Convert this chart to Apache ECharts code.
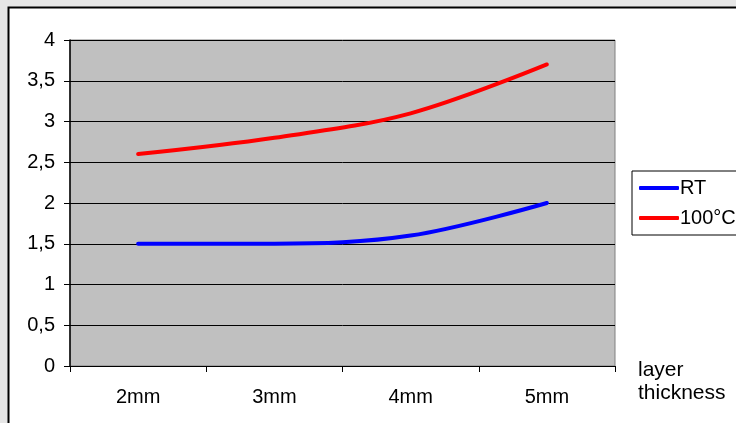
<!DOCTYPE html>
<html>
<head>
<meta charset="utf-8">
<script src="https://cdn.jsdelivr.net/npm/echarts@6/dist/echarts.min.js"></script>
<style>
html,body{margin:0;padding:0;background:#e6e6e6;}
#c{width:736px;height:423px;}
</style>
</head>
<body>
<div id="c"></div>
<script>
const categories = ['2mm', '3mm', '4mm', '5mm'];
const rtValues = [1.5, 1.5, 1.6, 2.0];
const hotValues = [2.6, 2.8, 3.1, 3.7];
const seriesNames = ['RT', '100°C'];
const xAxisName = 'layer\nthickness';

const FONT = '"Liberation Sans", Arial, sans-serif';
const chart = echarts.init(document.getElementById('c'), null, {renderer: 'canvas'});
chart.setOption({
  backgroundColor: '#e6e6e6',
  animation: false,
  textStyle: {fontFamily: FONT, color: '#000'},
  graphic: [{
    type: 'rect', z: -10, silent: true,
    shape: {x: 8.5, y: 7.5, width: 800, height: 500},
    style: {fill: '#ffffff', stroke: '#000000', lineWidth: 2}
  }, {
    type: 'text', silent: true, left: 638, top: 359,
    style: {text: xAxisName, fill: '#000', font: '21px ' + FONT, lineHeight: 23}
  }],
  grid: {
    left: 70, top: 40, right: 121, bottom: 57,
    show: true, backgroundColor: '#c0c0c0', borderColor: '#808080', borderWidth: 1
  },
  legend: {
    orient: 'vertical', left: 632, top: 171,
    backgroundColor: '#ffffff', borderColor: '#000000', borderWidth: 1,
    padding: [7, 20, 7, 7], itemGap: 10,
    itemWidth: 40, itemHeight: 4, icon: 'roundRect',
    textStyle: {fontFamily: FONT, fontSize: 20, color: '#000', padding: [0, 0, 0, -4]},
    data: seriesNames
  },
  xAxis: {
    type: 'category', data: categories, boundaryGap: true,
    axisLine: {lineStyle: {color: '#000', width: 1}},
    axisTick: {show: true, length: 6, lineStyle: {color: '#000'}},
    axisLabel: {fontFamily: FONT, fontSize: 20, color: '#000', margin: 21},
    splitLine: {show: false}
  },
  yAxis: {
    type: 'value', min: 0, max: 4, interval: 0.5,
    axisLine: {show: true, lineStyle: {color: '#000', width: 1.5}},
    axisTick: {show: true, length: 6, lineStyle: {color: '#000'}},
    axisLabel: {fontFamily: FONT, fontSize: 20, color: '#000', margin: 15,
      formatter: v => String(v).replace('.', ',')},
    splitLine: {show: true, lineStyle: {color: '#000', width: 1}}
  },
  series: [
    {name: seriesNames[0], type: 'line', data: rtValues, smooth: 0.35, showSymbol: false, symbol: 'none',
     lineStyle: {color: '#0000ff', width: 4, cap: 'round'}, itemStyle: {color: '#0000ff'}},
    {name: seriesNames[1], type: 'line', data: hotValues, smooth: 0.35, showSymbol: false, symbol: 'none',
     lineStyle: {color: '#ff0000', width: 4, cap: 'round'}, itemStyle: {color: '#ff0000'}}
  ]
});
</script>
</body>
</html>
